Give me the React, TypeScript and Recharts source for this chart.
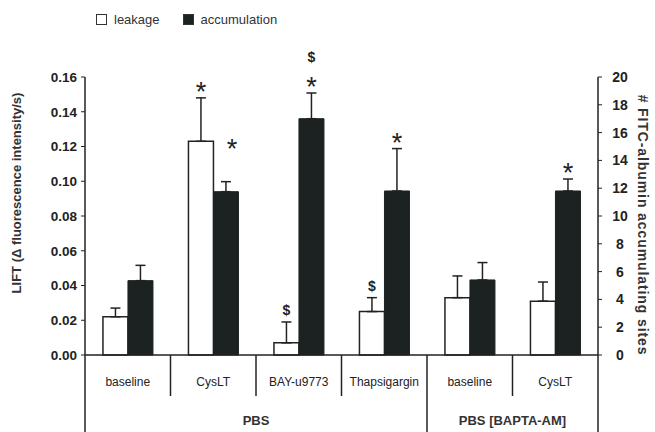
import React from 'react'
import { BarChart, Bar, XAxis, YAxis, ErrorBar, Legend, LabelList } from 'recharts'

const categories = ['baseline', 'CysLT', 'BAY-u9773', 'Thapsigargin', 'baseline', 'CysLT']
const groups = ['PBS', 'PBS', 'PBS', 'PBS', 'PBS [BAPTA-AM]', 'PBS [BAPTA-AM]']
const seriesNames = ['leakage', 'accumulation']
const leakage = [0.022, 0.123, 0.007, 0.025, 0.033, 0.031]
const leakageErr = [0.005, 0.025, 0.012, 0.008, 0.0125, 0.011]
const accumulation = [5.35, 11.75, 17.0, 11.8, 5.4, 11.8]
const accumulationErr = [1.1, 0.72, 1.85, 3.05, 1.25, 0.86]
const leakageMarks = ['', '*', '$', '$', '', '']
const accumulationMarks = ['', '*', '*$', '*', '', '*']
const leftTicks = [0, 0.02, 0.04, 0.06, 0.08, 0.1, 0.12, 0.14, 0.16]
const rightTicks = [0, 2, 4, 6, 8, 10, 12, 14, 16, 18, 20]

const data = categories.map((name, i) => ({
  key: i,
  name,
  leakage: leakage[i],
  leakageErr: [0, leakageErr[i]],
  accumulation: accumulation[i],
  accumulationErr: [0, accumulationErr[i]],
}))

const W = 655
const H = 432
const PLOT_LEFT = 85
const PLOT_RIGHT = 598
const PLOT_TOP = 77
const PLOT_BOTTOM = 355
const FONT = '"Liberation Sans", Arial, sans-serif'
const INK = '#222'

function CategoryTick(props: any) {
  const { x, payload } = props
  const i = payload.index
  const band = (PLOT_RIGHT - PLOT_LEFT) / categories.length
  const left = x - band / 2
  const groupStart = i === 0 || groups[i] !== groups[i - 1]
  const last = i === categories.length - 1
  let groupLabel = null
  if (groupStart) {
    let n = 1
    while (i + n < groups.length && groups[i + n] === groups[i]) n++
    groupLabel = (
      <text x={left + (n * band) / 2} y={425} textAnchor="middle" fontSize={13} fontWeight="bold" fill="#333" fontFamily={FONT}>
        {groups[i]}
      </text>
    )
  }
  return (
    <g>
      <line x1={left} x2={left} y1={PLOT_BOTTOM} y2={groupStart ? H : 396} stroke={INK} strokeWidth={1.5} />
      {last && <line x1={left + band} x2={left + band} y1={PLOT_BOTTOM} y2={H} stroke={INK} strokeWidth={1.5} />}
      <text x={x} y={386} textAnchor="middle" fontSize={12} fill={INK} fontFamily={FONT}>
        {categories[i]}
      </text>
      {groupLabel}
    </g>
  )
}

function markRenderer(marks: string[], values: number[], errs: number[]) {
  return (props: any) => {
    const { x, y, width, height, value } = props
    const i = value
    const m = marks[i]
    if (!m) return null
    const top = y - errs[i] * (height / values[i])
    const cx = x + width / 2
    const out: any[] = []
    let lift = 12
    // the CysLT accumulation star sits higher and to the right
    let dx = 0
    if (marks === accumulationMarks && i === 1) {
      lift = 39
      dx = 6
    }
    m.split('').forEach((c, k) => {
      if (c === '*') {
        out.push(
          <text key={k} x={cx + dx} y={top - lift + 15} textAnchor="middle" fontSize={27} fill={INK} fontFamily={FONT}>
            *
          </text>
        )
        lift += 24
      } else {
        out.push(
          <text key={k} x={cx + dx} y={top - lift + 5} textAnchor="middle" fontSize={14} fontWeight="bold" fill={INK} fontFamily={FONT}>
            $
          </text>
        )
        lift += 20
      }
    })
    return <g>{out}</g>
  }
}

function LegendContent(props: any) {
  const items = [...(props.payload || [])].sort(
    (a: any, b: any) => seriesNames.indexOf(a.value) - seriesNames.indexOf(b.value)
  )
  return (
    <div style={{ display: 'flex', gap: 23, fontFamily: FONT, fontSize: 13, color: '#333', alignItems: 'center' }}>
      {items.map((p: any) => (
        <span key={p.value} style={{ display: 'flex', alignItems: 'center', gap: 7 }}>
          <span style={{ display: 'inline-block', width: 9, height: 9, border: '1.5px solid #333', background: p.color }} />
          {p.value}
        </span>
      ))}
    </div>
  )
}

export default function App() {
  return (
    <div>
      <style>{'body{margin:0}'}</style>
      <BarChart
        width={W}
        height={H}
        data={data}
        margin={{ top: PLOT_TOP, right: 0, bottom: 0, left: 0 }}
        barCategoryGap="21%"
        barGap={0}
      >
        <Legend
          verticalAlign="middle"
          align="center"
          wrapperStyle={{ top: 12, left: 96, width: 'auto', height: 'auto' }}
          content={LegendContent}
        />
        <XAxis
          dataKey="key"
          height={H - PLOT_BOTTOM}
          tickLine={false}
          axisLine={{ stroke: INK, strokeWidth: 1.5 }}
          tick={CategoryTick}
          interval={0}
        />
        <YAxis
          yAxisId="left"
          orientation="left"
          width={PLOT_LEFT}
          domain={[0, 0.16]}
          ticks={leftTicks}
          tickFormatter={(v: number) => v.toFixed(2)}
          tick={{ fill: INK, fontSize: 13.5, fontWeight: 'bold', fontFamily: FONT }}
          tickSize={4}
          tickMargin={4}
          axisLine={{ stroke: INK, strokeWidth: 1.5 }}
          tickLine={{ stroke: INK }}
          label={{
            content: () => (
              <text x={18} y={193} transform="rotate(-90 18 193)" textAnchor="middle" dominantBaseline="middle" fontSize={13} fontWeight="bold" fill="#333" fontFamily={FONT}>
                LIFT (Δ fluorescence intensity/s)
              </text>
            ),
          }}
        />
        <YAxis
          yAxisId="right"
          orientation="right"
          width={W - PLOT_RIGHT}
          domain={[0, 20]}
          ticks={rightTicks}
          tick={{ fill: INK, fontSize: 14, fontWeight: 'bold', fontFamily: FONT, textAnchor: 'middle' }}
          tickSize={4}
          tickMargin={18}
          axisLine={{ stroke: INK, strokeWidth: 1.5 }}
          tickLine={{ stroke: INK }}
          label={{
            content: () => (
              <text x={642} y={225} transform="rotate(90 642 225)" textAnchor="middle" dominantBaseline="middle" fontSize={14} letterSpacing={0.9} fontWeight="bold" fill="#333" fontFamily={FONT}>
                # FITC-albumin accumulating sites
              </text>
            ),
          }}
        />
        <Bar yAxisId="left" dataKey="leakage" name="leakage" fill="#fff" stroke={INK} strokeWidth={1.5} isAnimationActive={false}>
          <ErrorBar dataKey="leakageErr" width={5} stroke={INK} strokeWidth={1.5} direction="y" />
          <LabelList dataKey="key" content={markRenderer(leakageMarks, leakage, leakageErr)} />
        </Bar>
        <Bar yAxisId="right" dataKey="accumulation" name="accumulation" fill="#1c2222" stroke="#1c2222" strokeWidth={1} isAnimationActive={false}>
          <ErrorBar dataKey="accumulationErr" width={5} stroke={INK} strokeWidth={1.5} direction="y" />
          <LabelList dataKey="key" content={markRenderer(accumulationMarks, accumulation, accumulationErr)} />
        </Bar>
      </BarChart>
    </div>
  )
}
